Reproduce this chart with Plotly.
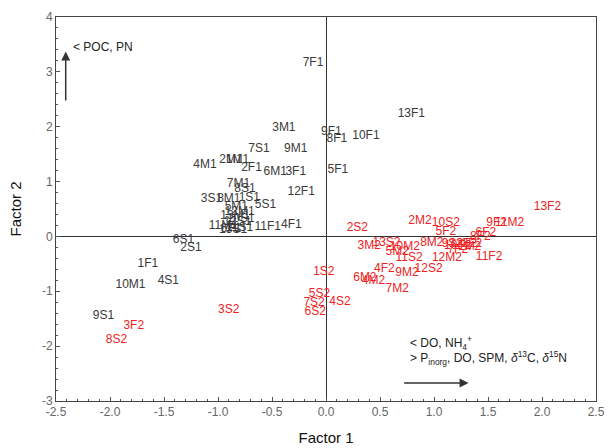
import plotly.graph_objects as go

# Group 1 (dark labels)
black_labels = ["7F1", "13F1", "3M1", "9F1", "8F1", "10F1", "7S1", "9M1", "4M1", "2M1", "1M1",
                "2F1", "6M1", "3F1", "5F1", "12F1", "7M1", "8S1", "3S1", "8M1", "1S1", "5S1",
                "5M1", "12M1", "13M1", "10S1", "12S1", "11M1", "6F1", "13S1", "11S1",
                "11F1", "4F1", "6S1", "2S1", "1F1", "10M1", "4S1", "9S1"]
black_x = [-0.12, 0.79, -0.39, 0.05, 0.10, 0.37, -0.62, -0.28, -1.12, -0.88, -0.82,
           -0.69, -0.47, -0.28, 0.11, -0.23, -0.81, -0.75, -1.06, -0.90, -0.71, -0.56,
           -0.83, -0.80, -0.84, -0.79, -0.82, -0.95, -0.88, -0.86, -0.80,
           -0.54, -0.32, -1.32, -1.25, -1.65, -1.81, -1.46, -2.06]
black_y = [3.17, 2.23, 1.98, 1.91, 1.78, 1.83, 1.60, 1.60, 1.30, 1.39, 1.39,
           1.25, 1.18, 1.18, 1.21, 0.81, 0.95, 0.86, 0.68, 0.68, 0.70, 0.58,
           0.54, 0.45, 0.38, 0.32, 0.27, 0.19, 0.13, 0.11, 0.16,
           0.17, 0.21, -0.06, -0.21, -0.50, -0.88, -0.81, -1.45]

# Group 2 (red labels)
red_labels = ["13F2", "9F2", "11M2", "2M2", "10S2", "5F2", "2S2", "3M2", "13S2", "10M2",
              "5M2", "11S2", "8M2", "9S2", "10F2", "12F2", "1M2", "2F2", "6F2", "8F2",
              "12M2", "7F2", "11F2", "12S2", "4F2", "9M2", "6M2", "4M2", "7M2",
              "1S2", "5S2", "7S2", "4S2", "6S2", "3S2", "3F2", "8S2"]
red_x = [2.05, 1.58, 1.70, 0.87, 1.11, 1.11, 0.29, 0.40, 0.56, 0.73,
         0.66, 0.77, 0.98, 1.17, 1.22, 1.27, 1.33, 1.35, 1.48, 1.43,
         1.12, 1.22, 1.51, 0.95, 0.54, 0.75, 0.36, 0.44, 0.66,
         -0.02, -0.06, -0.11, 0.13, -0.10, -0.90, -1.78, -1.94]
red_y = [0.54, 0.25, 0.25, 0.28, 0.25, 0.08, 0.16, -0.17, -0.12, -0.19,
         -0.28, -0.39, -0.12, -0.14, -0.17, -0.14, -0.19, -0.14, 0.06, -0.01,
         -0.39, -0.25, -0.38, -0.59, -0.59, -0.67, -0.75, -0.81, -0.96,
         -0.64, -1.05, -1.21, -1.19, -1.38, -1.34, -1.63, -1.88]

x_ticks = [-2.5, -2.0, -1.5, -1.0, -0.5, 0.0, 0.5, 1.0, 1.5, 2.0, 2.5]
y_ticks = [-3, -2, -1, 0, 1, 2, 3, 4]

FONT = "Liberation Sans, Arial, sans-serif"

fig = go.Figure()
fig.add_trace(go.Scatter(
    x=black_x, y=black_y, mode="text", text=black_labels,
    textfont=dict(family=FONT, size=12, color="#3a3a3a"),
    hoverinfo="text", showlegend=False))
fig.add_trace(go.Scatter(
    x=red_x, y=red_y, mode="text", text=red_labels,
    textfont=dict(family=FONT, size=12, color="#ee2222"),
    hoverinfo="text", showlegend=False))

axis_common = dict(showgrid=False, zeroline=True, zerolinecolor="#333333", zerolinewidth=1,
                   showline=True, linecolor="#444444", linewidth=1, mirror=True,
                   ticks="inside", ticklen=4, tickcolor="#555555", automargin=False,
                   tickfont=dict(family=FONT, size=12, color="#666666"))

fig.update_xaxes(range=[-2.5, 2.5], tickvals=x_ticks, ticktext=[f"{v:.1f}" for v in x_ticks],
                 minor=dict(dtick=0.1, ticks="inside", ticklen=2, tickcolor="#555555"),
                 title=dict(text="Factor 1", font=dict(family=FONT, size=15, color="#111111"), standoff=14),
                 **axis_common)
fig.update_yaxes(range=[-3, 4], tickvals=y_ticks, ticktext=[str(v) for v in y_ticks],
                 minor=dict(dtick=0.2, ticks="inside", ticklen=2, tickcolor="#555555"),
                 title=dict(text="Factor 2", font=dict(family=FONT, size=15, color="#111111"), standoff=16),
                 **axis_common)

ann_font = dict(family=FONT, size=12, color="#222222")
fig.add_annotation(x=-2.41, y=3.37, ax=-2.41, ay=2.45, xref="x", yref="y", axref="x", ayref="y",
                   text="", showarrow=True, arrowhead=2, arrowsize=1.2, arrowwidth=1.5, arrowcolor="#333333")
fig.add_annotation(x=1.32, y=-2.67, ax=0.71, ay=-2.67, xref="x", yref="y", axref="x", ayref="y",
                   text="", showarrow=True, arrowhead=2, arrowsize=1.2, arrowwidth=1.5, arrowcolor="#333333")
fig.add_annotation(x=-2.36, y=3.45, xref="x", yref="y", text="&lt; POC, PN", showarrow=False,
                   xanchor="left", yanchor="middle", font=ann_font)
fig.add_annotation(x=0.76, y=-1.94, xref="x", yref="y", text="&lt; DO, NH<sub>4</sub><sup>+</sup>",
                   showarrow=False, xanchor="left", yanchor="middle", font=ann_font)
fig.add_annotation(x=0.76, y=-2.22, xref="x", yref="y",
                   text="&gt; P<sub>inorg</sub>, DO, SPM, <i>δ</i><sup>13</sup>C, <i>δ</i><sup>15</sup>N",
                   showarrow=False, xanchor="left", yanchor="middle", font=ann_font)

fig.update_layout(width=608, height=448, margin=dict(l=56, r=12, t=17, b=47),
                  plot_bgcolor="white", paper_bgcolor="white")

fig.write_html("out.html", config={"displayModeBar": False},
               post_script="document.body.style.margin='0';")
